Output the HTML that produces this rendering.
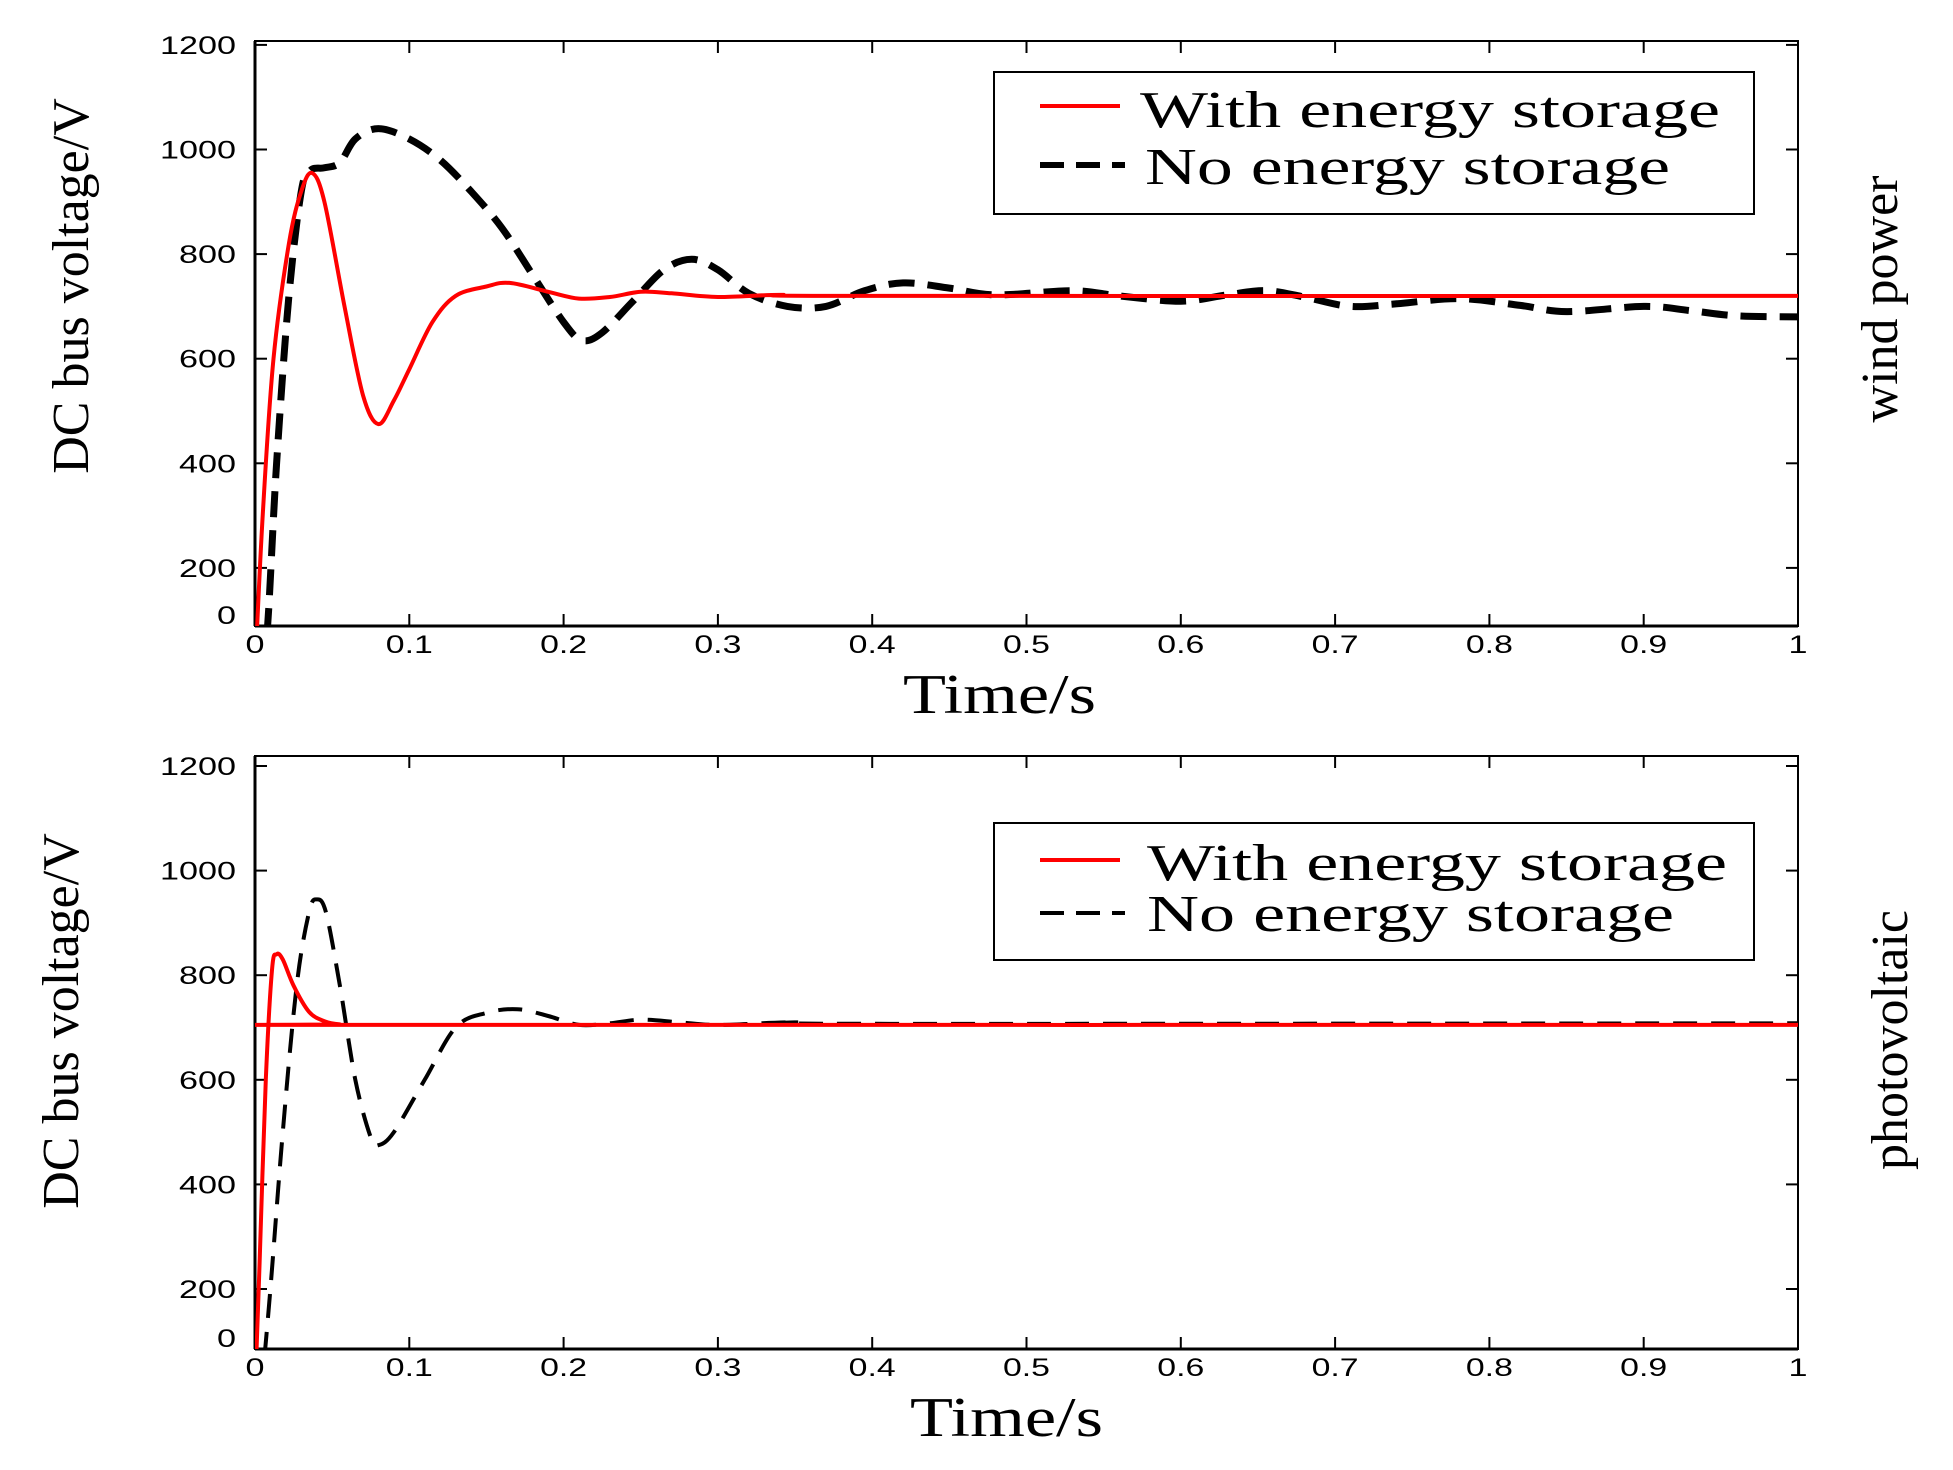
<!DOCTYPE html>
<html><head><meta charset="utf-8"><style>
html,body{margin:0;padding:0;background:#fff;}
svg{display:block;}
.tk{font-family:"Liberation Sans",sans-serif;font-size:25px;fill:#000;}
.sf{font-family:"Liberation Serif",serif;fill:#000;}
</style></head><body>
<svg id="s" width="1953" height="1470" viewBox="0 0 1953 1470" xmlns="http://www.w3.org/2000/svg">
<defs>
<clipPath id="c1"><rect x="255" y="41" width="1543" height="585"/></clipPath>
<clipPath id="c2"><rect x="255" y="756" width="1543" height="593"/></clipPath>
</defs>
<g id="axes"></g>
<g clip-path="url(#c1)">
<path id="b1" fill="none" stroke="#000" stroke-width="7" stroke-dasharray="26,13"/>
<path id="r1" fill="none" stroke="#f00" stroke-width="4"/>
</g>
<g clip-path="url(#c2)">
<path id="b2" fill="none" stroke="#000" stroke-width="4" stroke-dasharray="24,14"/>
<path id="r2" fill="none" stroke="#f00" stroke-width="4"/>
</g>
<rect x="994" y="72" width="760" height="142" fill="none" stroke="#000" stroke-width="2"/>
<line x1="1040" y1="106" x2="1120" y2="106" stroke="#f00" stroke-width="4"/>
<line x1="1040" y1="165" x2="1125" y2="165" stroke="#000" stroke-width="6" stroke-dasharray="24,12"/>
<text class="sf" x="1140" y="127" font-size="52" textLength="580" lengthAdjust="spacingAndGlyphs">With energy storage</text>
<text class="sf" x="1145" y="184" font-size="52" textLength="525" lengthAdjust="spacingAndGlyphs">No energy storage</text>
<rect x="994" y="823" width="760" height="137" fill="none" stroke="#000" stroke-width="2"/>
<line x1="1040" y1="860" x2="1120" y2="860" stroke="#f00" stroke-width="4"/>
<line x1="1040" y1="913" x2="1125" y2="913" stroke="#000" stroke-width="4" stroke-dasharray="24,12"/>
<text class="sf" x="1147" y="880" font-size="52" textLength="580" lengthAdjust="spacingAndGlyphs">With energy storage</text>
<text class="sf" x="1147" y="931" font-size="52" textLength="527" lengthAdjust="spacingAndGlyphs">No energy storage</text>
<text class="sf" font-size="52" text-anchor="middle" transform="translate(88,286) rotate(-90)">DC bus voltage/V</text>
<text class="sf" font-size="52" text-anchor="middle" transform="translate(78,1021) rotate(-90)">DC bus voltage/V</text>
<text class="sf" font-size="52" text-anchor="middle" transform="translate(1897,299) rotate(-90)">wind power</text>
<text class="sf" font-size="52" text-anchor="middle" transform="translate(1907,1040) rotate(-90)">photovoltaic</text>
<text class="sf" font-size="56" x="903" y="713" textLength="193" lengthAdjust="spacingAndGlyphs">Time/s</text>
<text class="sf" font-size="56" x="910" y="1436" textLength="193" lengthAdjust="spacingAndGlyphs">Time/s</text>
</svg>
<script>
const NS="http://www.w3.org/2000/svg";
const X0=255,X1=1798;
function X(t){return X0+(X1-X0)*t;}
const ax=document.getElementById('axes');
function el(n,a,txt){const e=document.createElementNS(NS,n);for(const k in a)e.setAttribute(k,a[k]);if(txt!==undefined)e.textContent=txt;ax.appendChild(e);return e;}
function tl(s){return (s.length*19 - (s.indexOf('.')>=0?10:0));}
function axes(top,bot,y1000,y0lab){
  el('rect',{x:X0,y:top,width:X1-X0,height:bot-top,fill:'none',stroke:'#000','stroke-width':2});
  el('line',{x1:X0,y1:bot,x2:X1,y2:bot,stroke:'#000','stroke-width':3});
  el('line',{x1:X0,y1:top,x2:X0,y2:bot,stroke:'#000','stroke-width':3});
  for(let i=0;i<=10;i++){const x=X(i/10);const s=i==0?'0':i==10?'1':'0.'+i;
    el('line',{x1:x,y1:bot,x2:x,y2:bot-12,stroke:'#000','stroke-width':2});
    el('line',{x1:x,y1:top,x2:x,y2:top+12,stroke:'#000','stroke-width':2});
    const w=tl(s);
    el('text',{class:'tk',x:x-w/2,y:bot+27,textLength:w,lengthAdjust:'spacingAndGlyphs'},s);}
  for(let v=200;v<=1200;v+=200){const y=y1000+(1000-v)*0.523;const s=String(v);const w=tl(s);
    el('line',{x1:X0,y1:y,x2:X0+12,y2:y,stroke:'#000','stroke-width':2});
    el('line',{x1:X1,y1:y,x2:X1-12,y2:y,stroke:'#000','stroke-width':2});
    el('text',{class:'tk',x:236-w,y:y+9,textLength:w,lengthAdjust:'spacingAndGlyphs'},s);}
  el('text',{class:'tk',x:217,y:y0lab+9,textLength:19,lengthAdjust:'spacingAndGlyphs'},'0');
}
axes(41,626,149.5,615);
axes(756,1349,870.6,1338);
function path(id,pts,y1000){
  const P=pts.map(p=>[X(p[0]),y1000+(1000-p[1])*0.523]);
  let d='M'+P[0][0]+','+P[0][1];
  for(let i=0;i<P.length-1;i++){
    const p0=P[Math.max(0,i-1)],p1=P[i],p2=P[i+1],p3=P[Math.min(P.length-1,i+2)];
    const c1=[p1[0]+(p2[0]-p0[0])/6,p1[1]+(p2[1]-p0[1])/6];
    const c2=[p2[0]-(p3[0]-p1[0])/6,p2[1]-(p3[1]-p1[1])/6];
    d+=`C${c1[0].toFixed(1)},${c1[1].toFixed(1)} ${c2[0].toFixed(1)},${c2[1].toFixed(1)} ${p2[0].toFixed(1)},${p2[1].toFixed(1)}`;}
  document.getElementById(id).setAttribute('d',d);
}
path('r1',[[0,0],[0.005,300],[0.012,600],[0.022,820],[0.03,920],[0.037,955],[0.045,900],[0.058,700],[0.07,530],[0.08,475],[0.09,520],[0.1,580],[0.115,670],[0.13,720],[0.15,738],[0.165,745],[0.19,728],[0.21,715],[0.23,718],[0.25,728],[0.27,725],[0.3,718],[0.34,722],[0.4,720],[1.0,720]],149.5);
path('b1',[[0.004,0],[0.008,80],[0.014,400],[0.022,720],[0.03,920],[0.036,960],[0.045,965],[0.055,975],[0.065,1020],[0.08,1040],[0.1,1020],[0.12,980],[0.14,920],[0.16,850],[0.18,760],[0.2,670],[0.212,635],[0.225,650],[0.245,710],[0.265,770],[0.283,790],[0.3,770],[0.32,725],[0.345,700],[0.37,700],[0.395,730],[0.42,745],[0.45,735],[0.48,722],[0.53,730],[0.56,720],[0.6,710],[0.63,722],[0.655,730],[0.68,718],[0.71,700],[0.74,705],[0.78,715],[0.82,702],[0.85,690],[0.9,700],[0.93,692],[0.96,682],[1.0,680]],149.5);
path('r2',[[0,0],[0.003,250],[0.007,600],[0.011,810],[0.014,840],[0.018,830],[0.025,780],[0.035,730],[0.045,712],[0.055,706],[0.07,705],[1.0,705]],870.6);
path('b2',[[0.004,0],[0.01,200],[0.018,500],[0.027,780],[0.035,920],[0.04,945],[0.046,920],[0.055,780],[0.065,600],[0.075,490],[0.08,475],[0.09,500],[0.11,600],[0.13,700],[0.15,728],[0.17,735],[0.19,722],[0.21,705],[0.23,708],[0.25,715],[0.275,710],[0.3,705],[0.35,710],[0.4,707],[1.0,708]],870.6);
</script>
</body></html>
